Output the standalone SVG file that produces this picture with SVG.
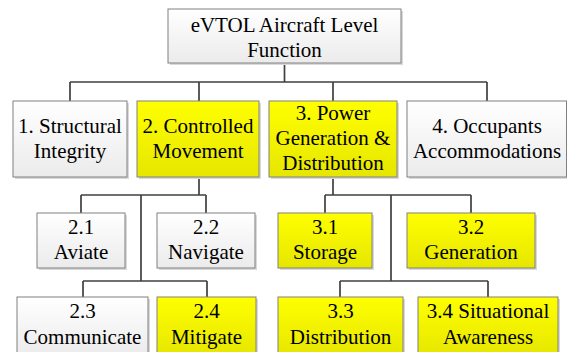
<svg xmlns="http://www.w3.org/2000/svg" width="567" height="352" viewBox="0 0 567 352">
<defs>
<linearGradient id="gw" x1="0" y1="0" x2="0" y2="1"><stop offset="0" stop-color="#ffffff"/><stop offset="1" stop-color="#ebebeb"/></linearGradient>
<linearGradient id="gy" x1="0" y1="0" x2="0" y2="1"><stop offset="0" stop-color="#ffff00"/><stop offset="1" stop-color="#e6e600"/></linearGradient>
</defs>
<style>
.w{fill:url(#gw);stroke:#808080;stroke-width:1}
.y{fill:url(#gy);stroke:#808080;stroke-width:1}
.sh{fill:#d9d9d9;stroke:none}
.t{font-family:'Liberation Serif','Times New Roman','DejaVu Serif',serif;font-size:21px;fill:#000;text-anchor:middle}
.c{fill:none;stroke:#404040;stroke-width:1.7}
</style>
<g id="connectors">
<path class="c" d="M284.5 63V82M70 82H487M70 82V101M199 82V101M333 82V101M487 82V101"/>
<path class="c" d="M199 177V195M81 195H206M81 195V213M206 195V213M141 195V281M83 281H207M83 281V297M207 281V297"/>
<path class="c" d="M333 177V195M325 195H471M325 195V213M471 195V213M391 195V281M340 281H488M340 281V297M488 281V297"/>
</g>
<g class="t">
<g id="top">
<rect class="sh" x="170" y="11" width="233" height="54"/>
<rect class="w" x="168" y="9" width="233" height="54"/>
<text x="284.5" y="32">eVTOL Aircraft Level</text>
<text x="284.5" y="57">Function</text>
</g>
<g id="n1">
<rect class="sh" x="15" y="103" width="114" height="76"/>
<rect class="w" x="13" y="101" width="114" height="76"/>
<text x="70" y="133">1. Structural</text>
<text x="70" y="158">Integrity</text>
</g>
<g id="n2">
<rect class="sh" x="139" y="103" width="122" height="76"/>
<rect class="y" x="137" y="101" width="122" height="76"/>
<text x="198" y="133">2. Controlled</text>
<text x="198" y="158">Movement</text>
</g>
<g id="n3">
<rect class="sh" x="271" y="103" width="128" height="76"/>
<rect class="y" x="269" y="101" width="128" height="76"/>
<text x="333" y="120">3. Power</text>
<text x="333" y="145">Generation &amp;</text>
<text x="333" y="170">Distribution</text>
</g>
<g id="n4">
<rect class="sh" x="409" y="103" width="160" height="76"/>
<rect class="w" x="407" y="101" width="159.5" height="76"/>
<text x="487" y="133">4. Occupants</text>
<text x="487" y="158">Accommodations</text>
</g>
<g id="n21">
<rect class="sh" x="39" y="215" width="88" height="55"/>
<rect class="w" x="37" y="213" width="88" height="55"/>
<text x="81" y="234">2.1</text>
<text x="81" y="259">Aviate</text>
</g>
<g id="n22">
<rect class="sh" x="159" y="215" width="98" height="55"/>
<rect class="w" x="157" y="213" width="98" height="55"/>
<text x="206" y="234">2.2</text>
<text x="206" y="259">Navigate</text>
</g>
<g id="n31">
<rect class="sh" x="280" y="215" width="94" height="55"/>
<rect class="y" x="278" y="213" width="94" height="55"/>
<text x="325" y="234">3.1</text>
<text x="325" y="259">Storage</text>
</g>
<g id="n32">
<rect class="sh" x="409" y="215" width="128" height="55"/>
<rect class="y" x="407" y="213" width="128" height="55"/>
<text x="471" y="234">3.2</text>
<text x="471" y="259">Generation</text>
</g>
<g id="n23">
<rect class="sh" x="19" y="299" width="131" height="60"/>
<rect class="w" x="17" y="297" width="131" height="60"/>
<text x="82.5" y="318">2.3</text>
<text x="82.5" y="344">Communicate</text>
</g>
<g id="n24">
<rect class="sh" x="159" y="299" width="99" height="60"/>
<rect class="y" x="157" y="297" width="99" height="60"/>
<text x="206.5" y="318">2.4</text>
<text x="206.5" y="344">Mitigate</text>
</g>
<g id="n33">
<rect class="sh" x="280" y="299" width="125" height="60"/>
<rect class="y" x="278" y="297" width="125" height="60"/>
<text x="340.5" y="318">3.3</text>
<text x="340.5" y="344">Distribution</text>
</g>
<g id="n34">
<rect class="sh" x="420" y="299" width="140" height="60"/>
<rect class="y" x="418" y="297" width="140" height="60"/>
<text x="488" y="318">3.4 Situational</text>
<text x="488" y="344">Awareness</text>
</g>
</g>
</svg>
